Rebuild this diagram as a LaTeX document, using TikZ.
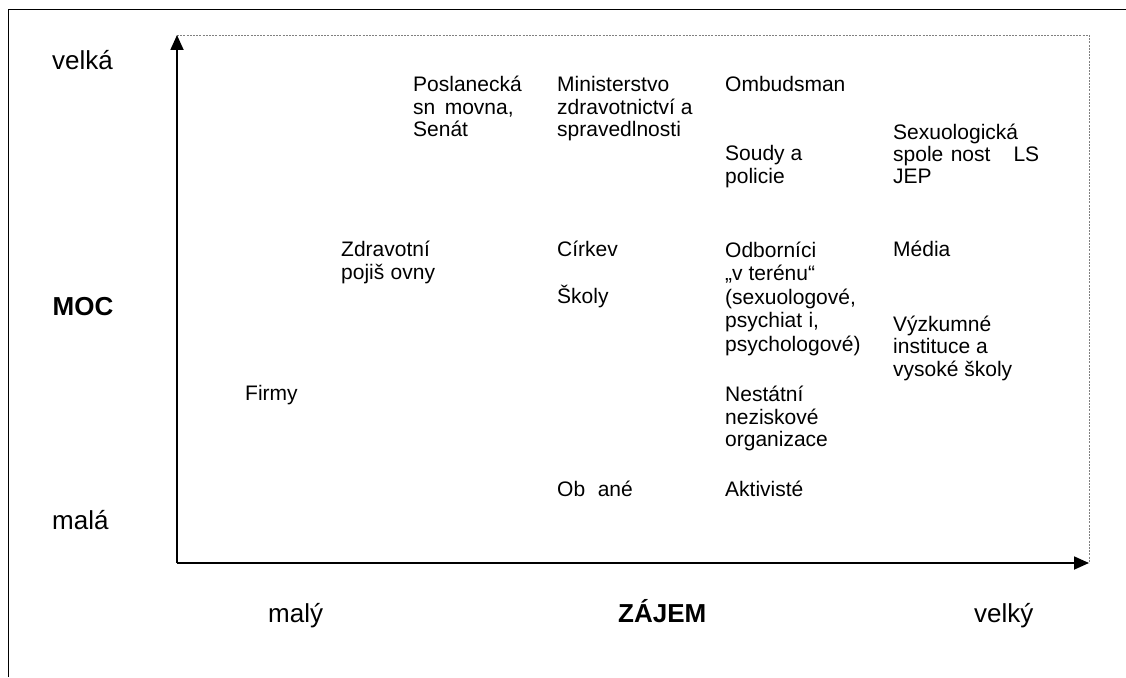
\documentclass[tikz,border=0pt]{standalone}
\usepackage{fontspec}
\setmainfont{Liberation Sans}
\usetikzlibrary{arrows.meta}
\begin{document}
\begin{tikzpicture}[x=1pt,y=-1pt,
  lbl/.style={anchor=base west, inner sep=0pt, align=left, font=\fontsize{21}{22.3}\selectfont},
  axl/.style={anchor=base west, inner sep=0pt, font=\fontsize{26}{30}\selectfont},
  axisline/.style={line width=1.8pt, -{Triangle[length=15pt,width=13pt]}},
  guide/.style={gray, line width=0.8pt, dash pattern=on 2pt off 1.2pt},
  frameline/.style={black, line width=1pt}]
\useasboundingbox (0,0) rectangle (1126,677);
% frame
\coordinate (ftl) at (8,10);
\coordinate (ftr) at (1126,10);
\coordinate (fbl) at (8,677);
\draw[frameline] (fbl) -- (ftl) -- (ftr);
% axes
\coordinate (origin) at (177,563);
\coordinate (ytip) at (177,35);
\coordinate (xtip) at (1089,563);
\coordinate (corner) at (1089,35);
\draw[guide] (ytip) -- (corner) -- (xtip);
\draw[axisline] (origin) -- (ytip);
\draw[axisline] (origin) -- (xtip);
% axis labels
\node[axl] (velka) at (52,70) {velká};
\node[axl,font=\fontsize{26}{30}\selectfont\bfseries] (moc) at (52.5,315) {MOC};
\node[axl] (mala) at (52,529) {malá};
\node[axl] (maly) at (268,622.7) {malý};
\node[axl,font=\fontsize{26}{30}\selectfont\bfseries] (zajem) at (618,622.7) {ZÁJEM};
\node[axl] (velky) at (974,622) {velký};
% stakeholders (anchor = baseline of the last line)
\node[lbl] (poslanecka) at (413,136.3) {Poslanecká\\sn\hspace{0.45em}movna,\\Senát};
\node[lbl] (ministerstvo) at (557,136.3) {Ministerstvo\\zdravotnictví a\\spravedlnosti};
\node[lbl] (ombudsman) at (725,91.7) {Ombudsman};
\node[lbl] (soudy) at (725,183) {Soudy a\\policie};
\node[lbl] (sexuologicka) at (893,183.6) {Sexuologická\\spole\hspace{0.35em}nost\hspace{1.1em}LS\\JEP};
\node[lbl] (zdravotni) at (341,279) {Zdravotní\\pojiš\hspace{0.3em}ovny};
\node[lbl] (cirkev) at (557,256.7) {Církev};
\node[lbl] (skoly) at (557,303.3) {Školy};
\node[lbl,font=\fontsize{21}{23.5}\selectfont] (odbornici) at (725,351) {Odborníci\\„v terénu“\\(sexuologové,\\psychiat\hspace{0.3em}i,\\psychologové)};
\node[lbl] (media) at (893,256.7) {Média};
\node[lbl] (vyzkumne) at (893,376) {Výzkumné\\instituce a\\vysoké školy};
\node[lbl] (firmy) at (245,400) {Firmy};
\node[lbl] (nestatni) at (725,446.3) {Nestátní\\neziskové\\organizace};
\node[lbl] (obcane) at (557,496) {Ob\hspace{0.6em}ané};
\node[lbl] (aktiviste) at (725,496) {Aktivisté};
\end{tikzpicture}
\end{document}
